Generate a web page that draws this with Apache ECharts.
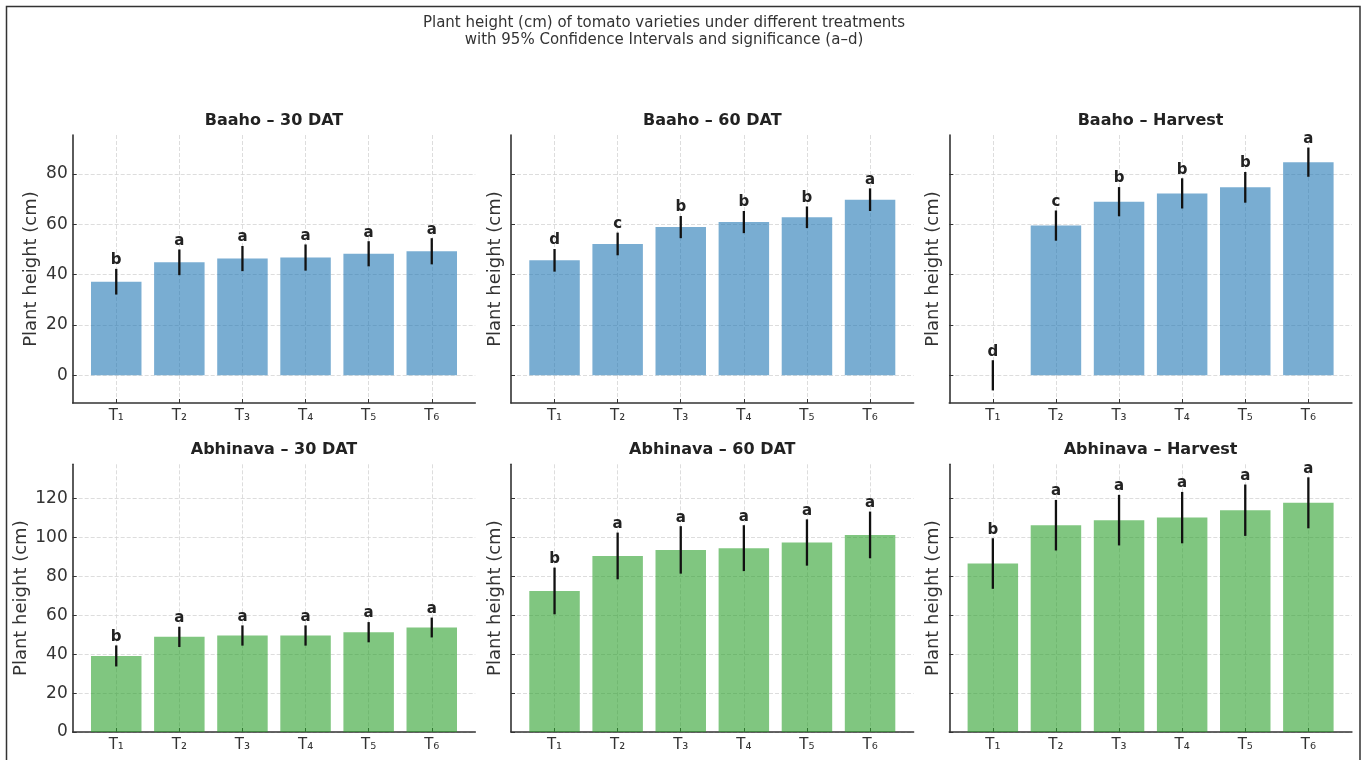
<!DOCTYPE html>
<html>
<head>
<meta charset="utf-8">
<script src="https://cdn.jsdelivr.net/npm/echarts@6/dist/echarts.min.js"></script>
<style>
  html, body { margin: 0; padding: 0; background: #ffffff; }
  #chart { width: 1365px; height: 760px; }
</style>
</head>
<body>
<div id="chart"></div>
<script>
// ---------- data ----------
const categories = ['T\u2081', 'T\u2082', 'T\u2083', 'T\u2084', 'T\u2085', 'T\u2086'];
const categoryPositions = [0, 1, 2, 3, 4, 5];
const yTicksBaaho = [0, 20, 40, 60, 80];
const yTicksAbhinava = [0, 20, 40, 60, 80, 100, 120];

const baaho30Mean = [37.2, 44.9, 46.4, 46.8, 48.3, 49.3];
const baaho30CI   = [5.1, 5.1, 5.0, 5.2, 5.0, 5.2];
const baaho30Sig  = ['b', 'a', 'a', 'a', 'a', 'a'];

const baaho60Mean = [45.7, 52.2, 58.9, 60.9, 62.8, 69.8];
const baaho60CI   = [4.5, 4.5, 4.4, 4.4, 4.3, 4.5];
const baaho60Sig  = ['d', 'c', 'b', 'b', 'b', 'a'];

const baahoHMean  = [0, 59.5, 69.0, 72.3, 74.7, 84.7];
const baahoHCI    = [6.0, 6.0, 5.8, 6.0, 6.1, 5.8];
const baahoHSig   = ['d', 'c', 'b', 'b', 'b', 'a'];

const abh30Mean   = [39.1, 48.9, 49.6, 49.6, 51.3, 53.7];
const abh30CI     = [5.4, 5.2, 5.2, 5.2, 5.2, 5.1];
const abh30Sig    = ['b', 'a', 'a', 'a', 'a', 'a'];

const abh60Mean   = [72.5, 90.5, 93.6, 94.5, 97.4, 101.3];
const abh60CI     = [12.0, 12.0, 12.2, 11.8, 11.9, 12.0];
const abh60Sig    = ['b', 'a', 'a', 'a', 'a', 'a'];

const abhHMean    = [86.6, 106.3, 108.9, 110.2, 114.0, 117.8];
const abhHCI      = [13.0, 13.0, 13.0, 13.2, 13.2, 13.1];
const abhHSig     = ['b', 'a', 'a', 'a', 'a', 'a'];

const panelTitles = ['Baaho \u2013 30 DAT', 'Baaho \u2013 60 DAT', 'Baaho \u2013 Harvest',
                     'Abhinava \u2013 30 DAT', 'Abhinava \u2013 60 DAT', 'Abhinava \u2013 Harvest'];
const suptitle = 'Plant height (cm) of tomato varieties under different treatments\nwith 95% Confidence Intervals and significance (a\u2013d)';
const yLabel = 'Plant height (cm)';

// ---------- layout / style ----------
const FONT = 'DejaVu Sans';
const colLeft = [72.7, 511, 949.3];
const panelW = 402.6;
const rowTop = [135, 464.3];
const rowH = [268, 267.7];
const rowYRange = [[-11, 95.5], [0, 137.6]];
const rowTicks = [yTicksBaaho, yTicksAbhinava];
const rowColor = ['rgba(31,119,180,0.6)', 'rgba(44,160,44,0.6)'];
const xRange = [-0.69, 5.69];

const panels = [
  { mean: baaho30Mean, ci: baaho30CI, sig: baaho30Sig },
  { mean: baaho60Mean, ci: baaho60CI, sig: baaho60Sig },
  { mean: baahoHMean,  ci: baahoHCI,  sig: baahoHSig },
  { mean: abh30Mean,   ci: abh30CI,   sig: abh30Sig },
  { mean: abh60Mean,   ci: abh60CI,   sig: abh60Sig },
  { mean: abhHMean,    ci: abhHCI,    sig: abhHSig }
];

const grid = [], xAxis = [], yAxis = [], series = [], graphic = [];
const gridLine = { show: true, lineStyle: { type: [4, 2], color: '#d4d4d4', width: 0.8 } };
const spine = { show: true, onZero: false, lineStyle: { color: '#333', width: 1.6 } };

panels.forEach((p, i) => {
  const row = Math.floor(i / 3), col = i % 3;
  grid.push({ left: colLeft[col], top: rowTop[row], width: panelW, height: rowH[row], containLabel: false });
  xAxis.push({
    type: 'value', gridIndex: i, min: xRange[0], max: xRange[1],
    axisLine: spine,
    axisTick: { show: true, inside: true, length: 4, customValues: categoryPositions, lineStyle: { color: '#333', width: 1 } },
    axisLabel: { show: true, customValues: categoryPositions, margin: 6,
      formatter: v => categories[Math.round(v)], fontFamily: FONT, fontSize: 15, color: '#333' },
    splitLine: gridLine
  });
  yAxis.push({
    type: 'value', gridIndex: i, min: rowYRange[row][0], max: rowYRange[row][1],
    axisLine: spine,
    axisTick: { show: true, inside: true, length: 4, customValues: rowTicks[row], lineStyle: { color: '#333', width: 1 } },
    axisLabel: { show: col === 0, customValues: rowTicks[row], margin: 5, fontFamily: FONT, fontSize: 17, color: '#333' },
    splitLine: gridLine,
    name: yLabel, nameLocation: 'middle',
    nameGap: col === 0 ? (row === 0 ? 32 : 42) : 7,
    nameTextStyle: { fontFamily: FONT, fontSize: 18, color: '#333' }
  });
  series.push({
    type: 'bar', xAxisIndex: i, yAxisIndex: i, barWidth: '80%',
    itemStyle: { color: rowColor[row] },
    data: p.mean.map((m, k) => [categoryPositions[k], m]),
    z: 2
  });
  series.push({
    type: 'custom', xAxisIndex: i, yAxisIndex: i, z: 5,
    encode: { x: 0, y: 1 },
    data: p.mean.map((m, k) => [categoryPositions[k], m, p.ci[k]]),
    renderItem: (params, api) => {
      const x = api.value(0), m = api.value(1), c = api.value(2);
      const top = api.coord([x, m + c]);
      const bot = api.coord([x, m - c]);
      return {
        type: 'group',
        children: [
          { type: 'line', shape: { x1: top[0], y1: top[1], x2: bot[0], y2: bot[1] },
            style: { stroke: '#111', lineWidth: 2.3 } },
          { type: 'text', x: top[0], y: top[1] - 1,
            style: { text: p.sig[params.dataIndex], align: 'center', verticalAlign: 'bottom',
              font: 'bold 15px "' + FONT + '"', fill: '#222' } }
        ]
      };
    }
  });
  graphic.push({
    type: 'text', x: colLeft[col] + panelW / 2, y: rowTop[row] - 22,
    style: { text: panelTitles[i], align: 'center', verticalAlign: 'top',
      font: 'bold 16px "' + FONT + '"', fill: '#222' }
  });
});

graphic.push({
  type: 'text', x: 664, y: 15,
  style: { text: suptitle, align: 'center', verticalAlign: 'top', lineHeight: 16.8,
    font: '15px "' + FONT + '"', fill: '#333' }
});
graphic.push({
  type: 'rect', shape: { x: 6.5, y: 6.5, width: 1353.5, height: 800 },
  style: { fill: 'none', stroke: '#333', lineWidth: 1.5 }, silent: true
});

const chart = echarts.init(document.getElementById('chart'), null, { renderer: 'canvas' });
chart.setOption({
  backgroundColor: '#ffffff',
  animation: false,
  textStyle: { fontFamily: FONT },
  grid, xAxis, yAxis, series, graphic
});
</script>
</body>
</html>
